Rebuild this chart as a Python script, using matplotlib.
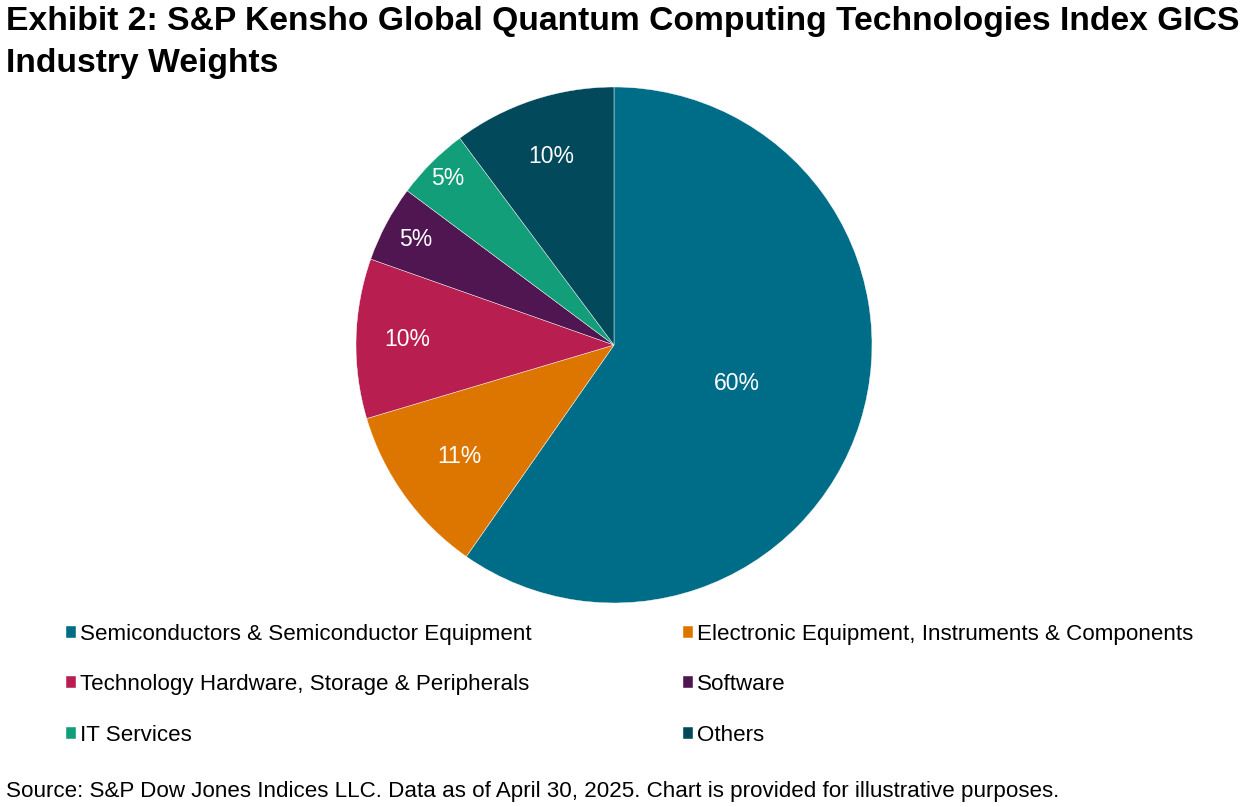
import numpy as np
import matplotlib.pyplot as plt

plt.rcParams['font.family'] = ['Liberation Sans', 'DejaVu Sans']

industries = ['Semiconductors & Semiconductor Equipment',
              'Electronic Equipment, Instruments & Components',
              'Technology Hardware, Storage & Peripherals',
              'Software', 'IT Services', 'Others']
weights = [59.7, 10.7, 10.0, 4.8, 4.6, 10.2]
colors = ['#006D88', '#DD7600', '#B81F50', '#501652', '#129E79', '#024A5B']

# label distances from centre (fraction of radius), as placed in the original
label_dist = [0.5, 0.74, 0.80, 0.87, 0.91, 0.77]

W, H = 1249, 807
fig = plt.figure(figsize=(W / 100, H / 100), dpi=100)

cx, cy, r = 614, 345, 258
ax = fig.add_axes([(cx - r) / W, 1 - (cy + r) / H, 2 * r / W, 2 * r / H])
wedges, _ = ax.pie(weights, colors=colors, startangle=90, counterclock=False,
                   radius=1, wedgeprops=dict(edgecolor='white', linewidth=0.3))
ax.set_xlim(-1, 1)
ax.set_ylim(-1, 1)
ax.set_aspect('equal')
ax.axis('off')

for w, v, d in zip(wedges, weights, label_dist):
    ang = np.deg2rad((w.theta1 + w.theta2) / 2)
    ax.text(d * np.cos(ang), d * np.sin(ang), f'{v:.0f}%', ha='center',
            va='center', color='white', fontsize=16.5)

fig.text(6 / W, 1 - 6 / H,
         'Exhibit 2: S&P Kensho Global Quantum Computing Technologies Index GICS\nIndustry Weights',
         ha='left', va='top', fontsize=24.2, fontweight='bold', linespacing=1.45)

order = [0, 2, 4, 1, 3, 5]
fig.legend([wedges[i] for i in order], [industries[i] for i in order],
           loc='upper left', bbox_to_anchor=(66 / W, 1 - 624 / H), ncol=2,
           frameon=False, fontsize=16.1, handlelength=0.45, handleheight=0.45,
           handletextpad=0.18, labelspacing=1.31, columnspacing=6.78,
           borderaxespad=0, borderpad=0)

fig.text(6 / W, 1 - 792 / H,
         'Source: S&P Dow Jones Indices LLC. Data as of April 30, 2025. Chart is provided for illustrative purposes.',
         ha='left', va='center', fontsize=16.1)

fig.savefig('out.png', dpi=100)
